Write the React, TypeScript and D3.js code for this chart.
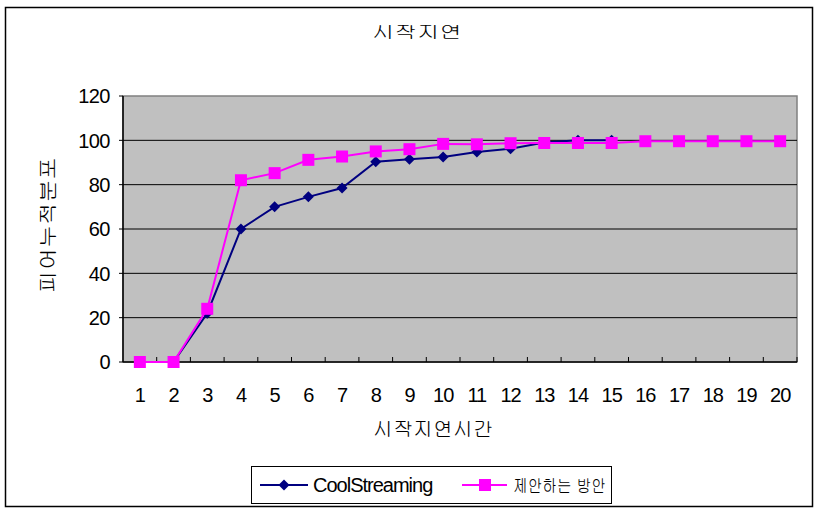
import React from "react";
import * as d3 from "d3";

const categories = ["1","2","3","4","5","6","7","8","9","10","11","12","13","14","15","16","17","18","19","20"];
const coolStreaming = [0, 0, 22, 60, 70, 74.5, 78.5, 90.3, 91.5, 92.5, 94.7, 96.2, 99, 100, 100];
const proposed = [0, 0, 24, 82, 85.2, 91.2, 92.7, 95, 96, 98.4, 98.2, 98.7, 98.8, 98.8, 98.8, 99.6, 99.6, 99.6, 99.6, 99.6];
const yTicks = [0, 20, 40, 60, 80, 100, 120];
const seriesNames = ["CoolStreaming", "제안하는 방안"];
const title = "시작지연";
const xTitle = "시작지연시간";
const yTitle = "피어누적분포";

const W = 831, H = 522;
const plot = { left: 123, top: 96, right: 797, bottom: 362 };
const NAVY = "#000080";
const PINK = "#ff00ff";
const KR = "'Gulim', 'Noto Sans CJK KR', sans-serif";
const NUM = "'Liberation Sans', Arial, sans-serif";

export default function App() {
  const x = d3.scaleBand<string>().domain(categories).range([plot.left, plot.right]);
  const y = d3.scaleLinear().domain([0, 120]).range([plot.bottom, plot.top]);
  const cx = (i: number) => (x(categories[i]) as number) + x.bandwidth() / 2;
  const line = d3.line<number>().x((_, i) => cx(i)).y((d) => y(d));
  const diamond = (px: number, py: number, r: number) => `M${px},${py - r}L${px + r},${py}L${px},${py + r}L${px - r},${py}Z`;

  return (
    <svg width={W} height={H} style={{ position: "absolute", left: 0, top: 0, background: "#fff" }}>
      <rect x={5.5} y={7.5} width={807} height={499} fill="#fff" stroke="#000" strokeWidth={1.5} />
      <text x={372} y={38} fontFamily={KR} fontSize={17} textLength={90} lengthAdjust="spacingAndGlyphs">{title}</text>

      <rect x={plot.left} y={plot.top} width={plot.right - plot.left} height={plot.bottom - plot.top} fill="#c0c0c0" stroke="#808080" strokeWidth={1.5} />
      {yTicks.filter((t) => t > 0 && t < 120).map((t) => (
        <line key={t} x1={plot.left} x2={plot.right} y1={y(t)} y2={y(t)} stroke="#000" strokeWidth={1} />
      ))}
      {yTicks.map((t) => (
        <g key={"yt" + t}>
          <line x1={plot.left - 4} x2={plot.left} y1={y(t)} y2={y(t)} stroke="#000" strokeWidth={1} />
          <text x={110} y={y(t)} dy="0.36em" textAnchor="end" fontFamily={NUM} fontSize={20} letterSpacing={-0.5}>{t}</text>
        </g>
      ))}
      {categories.map((c) => (
        <line key={"xt" + c} x1={(x(c) as number) + x.bandwidth()} x2={(x(c) as number) + x.bandwidth()} y1={plot.bottom} y2={plot.bottom - 5} stroke="#000" strokeWidth={1} />
      ))}
      <line x1={plot.left} x2={plot.left} y1={plot.top} y2={plot.bottom} stroke="#000" strokeWidth={1.5} />
      <line x1={plot.left} x2={plot.right} y1={plot.bottom} y2={plot.bottom} stroke="#000" strokeWidth={1.5} />
      {categories.map((c, i) => (
        <text key={"xl" + c} x={cx(i)} y={402} textAnchor="middle" fontFamily={NUM} fontSize={20} letterSpacing={-1}>{c}</text>
      ))}

      <path d={line(coolStreaming) as string} fill="none" stroke={NAVY} strokeWidth={2} />
      {coolStreaming.map((v, i) => (
        <path key={"d" + i} d={diamond(cx(i), y(v), 5.5)} fill={NAVY} />
      ))}
      <path d={line(proposed) as string} fill="none" stroke={PINK} strokeWidth={2} />
      {proposed.map((v, i) => (
        <rect key={"s" + i} x={cx(i) - 6} y={y(v) - 6} width={12} height={12} fill={PINK} />
      ))}

      <text x={373} y={436} fontFamily={KR} fontSize={20} textLength={120} lengthAdjust="spacingAndGlyphs">{xTitle}</text>
      <text transform={`translate(55,293) rotate(-90)`} fontFamily={KR} fontSize={20} textLength={136} lengthAdjust="spacingAndGlyphs">{yTitle}</text>

      <rect x={251.5} y={466.5} width={360} height={37} fill="#fff" stroke="#000" strokeWidth={1} />
      <line x1={260} x2={308} y1={485} y2={485} stroke={NAVY} strokeWidth={2} />
      <path d={diamond(284, 485, 5.5)} fill={NAVY} />
      <text x={313} y={492} fontFamily={NUM} fontSize={20} letterSpacing={-1}>{seriesNames[0]}</text>
      <line x1={462} x2={507} y1={485} y2={485} stroke={PINK} strokeWidth={2} />
      <rect x={479} y={479} width={12} height={12} fill={PINK} />
      <text x={513} y={492} fontFamily={KR} fontSize={18} textLength={93} lengthAdjust="spacingAndGlyphs">{seriesNames[1]}</text>
    </svg>
  );
}
